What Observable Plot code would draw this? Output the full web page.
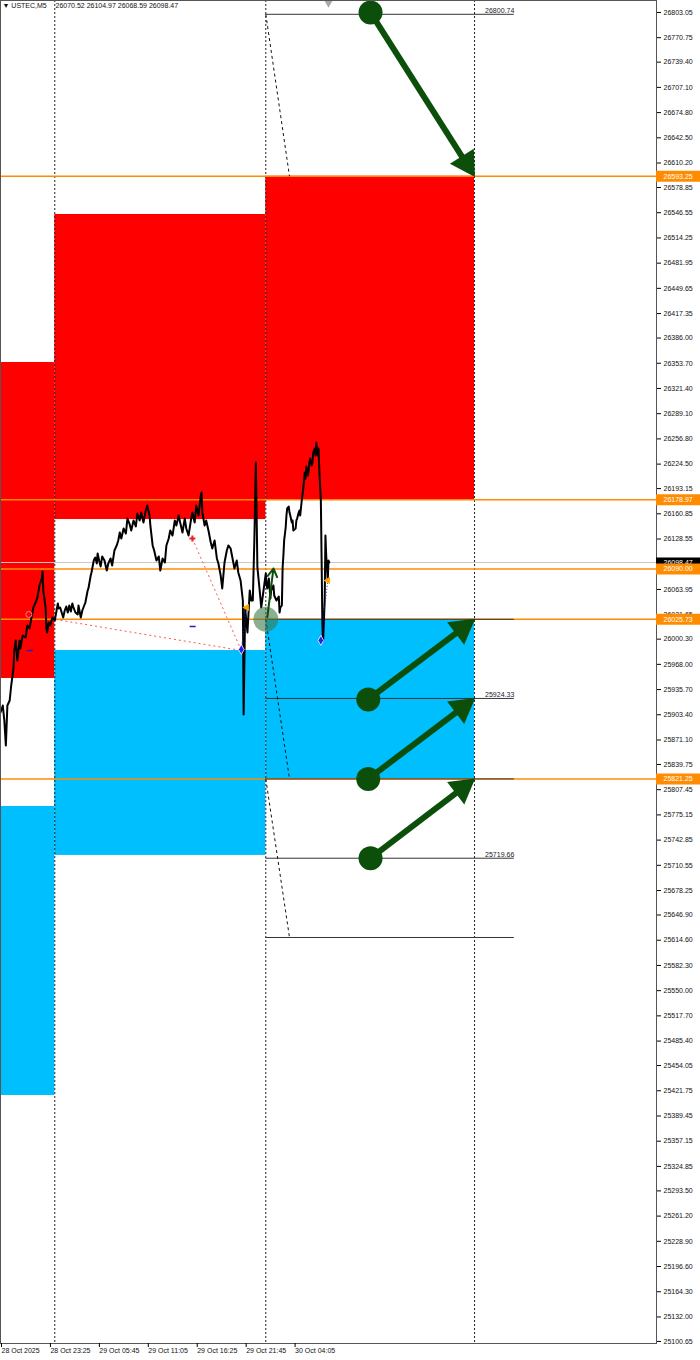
<!DOCTYPE html>
<html><head><meta charset="utf-8">
<script src="https://cdn.jsdelivr.net/npm/d3@7"></script>
<script src="https://cdn.jsdelivr.net/npm/@observablehq/plot@0.6"></script>
<style>body{margin:0;background:#fff;}#chart{width:700px;height:1360px;overflow:hidden;}</style>
</head><body><div id="chart"></div>
<script>
// ---------- data ----------
const symbolName = "▼ USTEC,M5";
const ohlcText = "26070.52 26104.97 26068.59 26098.47";

const priceTicks = [26803.05,26770.75,26739.40,26707.10,26674.80,26642.50,26610.20,26578.85,26546.55,26514.25,26481.95,26449.65,26417.35,26386.00,26353.70,26321.40,26289.10,26256.80,26224.50,26193.15,26160.85,26128.55,26096.25,26063.95,26031.65,26000.30,25968.00,25935.70,25903.40,25871.10,25839.75,25807.45,25775.15,25742.85,25710.55,25678.25,25646.90,25614.60,25582.30,25550.00,25517.70,25485.40,25454.05,25421.75,25389.45,25357.15,25324.85,25293.50,25261.20,25228.90,25196.60,25164.30,25132.00,25100.65];

const timeTickBars = [0,64,128,192,256,320,384];
const timeTickLabels = ["28 Oct 2025","28 Oct 23:25","29 Oct 05:45","29 Oct 11:05","29 Oct 16:25","29 Oct 21:45","30 Oct 04:05"];
const daySeparators = [71,347,620];

// M5 price path (bar index, price)
const priceBar = [
  0,3,5,7,9,12,14,17,18,20,22,25,26,29,33,35,38,41,43,46,48,51,54,55,56,59,60,61,63,65,68,71,
  75,76,78,80,82,84,86,88,90,92,94,95,98,101,102,105,107,109,111,112,114,115,118,119,122,123,
  124,126,127,129,131,133,136,139,141,144,146,149,152,154,156,158,161,164,166,169,171,174,177,179,182,184,187,190,192,195,
  196,199,201,204,207,209,212,215,217,220,222,225,228,230,233,235,238,241,243,246,249,251,254,256,259,262,263,264,267,269,
  272,275,277,280,283,285,288,290,293,296,298,301,303,306,309,311,314,317,318,320,323,326,328,
  330,332,334,336,339,341,344,
  347,348,349,351,353,354,357,358,361,364,365,366,368,369,370,371,373,374,375,377,378,379,381,382,383,386,387,388,390,391,
  392,394,395,396,398,399,400,402,403,404,405,407,408,409,411,412,413,415,416,417,419,
  420,421,422,424,425,426,428,429,430];
const priceVal = [
  25906.3,25915.3,25896.1,25864.1,25915.3,25921.7,25940.9,25962.7,25985.7,25998.6,25972.9,25998.6,25988.3,26005.0,26002.4,26017.8,26013.9,26030.6,26040.8,26047.3,26052.4,26069.0,26078.0,26087.0,26062.6,26040.8,26013.9,26008.8,26021.6,26017.8,26028.0,26024.2,
  26046.0,26039.6,26040.8,26034.4,26028.0,26037.0,26042.1,26034.4,26043.4,26035.7,26046.0,26042.1,26034.4,26031.9,26043.4,26028.0,26037.0,26042.1,26047.2,26052.4,26062.6,26065.2,26081.8,26085.7,26101.0,26103.6,
  26104.9,26097.2,26110.0,26101.0,26093.4,26106.2,26101.0,26088.2,26097.2,26103.6,26094.6,26113.8,26120.3,26126.7,26136.9,26129.2,26142.0,26135.6,26154.8,26147.2,26139.5,26152.3,26144.6,26161.2,26152.3,26162.5,26149.7,26165.1,26171.5,26158.7,
  26145.9,26120.3,26113.8,26101.0,26106.2,26088.2,26103.6,26098.5,26120.3,26129.2,26139.5,26133.1,26152.3,26145.9,26158.7,26149.7,26136.9,26154.8,26142.0,26133.1,26152.3,26162.5,26149.7,26171.5,26158.7,26184.3,26188.1,26162.5,26145.9,26152.3,
  26139.5,26124.1,26116.4,26126.7,26103.6,26097.2,26081.8,26065.2,26098.5,26113.8,26120.3,26116.4,26106.2,26090.8,26101.0,26085.7,26075.4,26049.8,25903.8,26039.6,26008.8,26062.6,26049.8,
  26049.8,26126.7,26226.6,26092.1,26062.6,26040.8,26062.6,
  26084.4,26069.0,26065.2,26078.0,26052.4,26062.6,26069.0,26056.2,26049.8,26054.9,26034.4,26040.8,26043.4,26092.1,26107.4,26126.7,26143.3,26158.7,26167.7,26170.2,26162.5,26158.7,26149.7,26152.3,26139.5,26142.0,26152.3,26154.8,26162.5,26165.1,
  26158.7,26177.9,26185.6,26193.3,26213.8,26206.1,26221.4,26209.9,26216.3,26226.6,26231.7,26222.7,26226.6,26239.4,26244.5,26235.5,26252.2,26235.5,26244.5,26216.3,26177.9,
  26101.0,26017.8,25998.6,26049.8,26133.1,26107.5,26075.4,26101.0,26098.5];

const redStart = [0,71,347], redEnd = [71,347,620];
const redTop = [26354.7,26544.3,26593.25], redBottom = [25949.9,26153.5,26178.97];
const blueStart = [0,71,347], blueEnd = [71,347,620];
const blueTop = [25785.9,25985.7,26025.73], blueBottom = [25415.7,25723.2,25821.25];

const levelPrices = [26593.25,26178.97,26090.00,26025.73,25821.25];
const currentPrice = 26098.47;

const fiboStart = 347, fiboEnd = 672;
const fiboPrices = [26800.74,26025.73,25924.33,25821.25,25719.66,25618.10];
const fiboLabels = ["26800.74","","25924.33","","25719.66",""];

const diagFromBar = 347, diagToBar = 378;
const diagFromPrice = [26800.74,26025.73,25821.25];
const diagToPrice = [26593.25,25821.25,25618.10];

const arrowFromBar = [484,481,481,484];
const arrowFromPrice = [26803.0,25923.0,25821.25,25719.66];
const arrowToBar = [620,620,620,620];
const arrowToPrice = [26593.25,26025.73,25924.33,25821.25];

const zigFromBar = [72,251], zigFromPrice = [26025.5,26129.2];
const zigToBar = [315,315], zigToPrice = [25985.7,25985.7];
const blueDiamondBar = [315,419], blueDiamondPrice = [25987.0,25998.6];
const orangeMarkBar = [322,428], orangeMarkPrice = [26040.8,26075.4];
const blueDashBar = [39,252], blueDashPrice = [25985.7,26016.5];

// ---------- scales ----------
const W = 700, H = 1360, mR = 44, mB = 17;
const xDomain = [0, 858], yDomain = [25098.0, 26818.4];
const xs = Plot.scale({x: {type: "linear", domain: xDomain, range: [0, W - mR]}});
const ys = Plot.scale({y: {type: "linear", domain: yDomain, range: [H - mB, 0]}});
const axisEnd = xs.invert(W);

const price = priceBar.map((b, i) => ({bar: b, price: priceVal[i]}));
const red = redStart.map((s, i) => ({x1: s, x2: redEnd[i], y1: redBottom[i], y2: redTop[i]}));
const blue = blueStart.map((s, i) => ({x1: s, x2: blueEnd[i], y1: blueBottom[i], y2: blueTop[i]}));
const fibo = fiboPrices.map((p, i) => ({p, label: fiboLabels[i]}));
const diag = diagFromPrice.map((p, i) => ({x1: diagFromBar, y1: p, x2: diagToBar, y2: diagToPrice[i]}));
const arrows = arrowFromBar.map((b, i) => {
  const px0 = xs.apply(b), py0 = ys.apply(arrowFromPrice[i]);
  const px1 = xs.apply(arrowToBar[i]), py1 = ys.apply(arrowToPrice[i]);
  const a = Math.atan2(py1 - py0, px1 - px0);
  return {
    fb: b, fp: arrowFromPrice[i],
    sb: xs.invert(px1 - Math.cos(a) * 18), sp: ys.invert(py1 - Math.sin(a) * 18),
    hb: xs.invert(px1 - Math.cos(a) * 15.5), hp: ys.invert(py1 - Math.sin(a) * 15.5),
    rot: a * 180 / Math.PI + 90
  };
});
const zig = zigFromBar.map((b, i) => ({x1: b, y1: zigFromPrice[i], x2: zigToBar[i], y2: zigToPrice[i]}));
const dashes = blueDashBar.map((b, i) => ({x1: xs.invert(xs.apply(b) - 3), x2: xs.invert(xs.apply(b) + 3), y: blueDashPrice[i]}));
const labelMap = new Map(timeTickBars.map((b, i) => [b, timeTickLabels[i]]));

const green = "#0b4f0b", orange = "#ff8c00";

const chart = Plot.plot({
  width: W, height: H,
  marginLeft: 0, marginRight: mR, marginTop: 0, marginBottom: mB,
  style: {fontFamily: "Liberation Sans, Arial, sans-serif", background: "#fff", overflow: "visible"},
  x: {type: "linear", domain: xDomain},
  y: {type: "linear", domain: yDomain},
  marks: [
    Plot.rect(red, {x1: "x1", x2: "x2", y1: "y1", y2: "y2", fill: "#ff0000"}),
    Plot.rect(blue, {x1: "x1", x2: "x2", y1: "y1", y2: "y2", fill: "#00bfff"}),
    Plot.ruleX(daySeparators, {stroke: "#222", strokeWidth: 1, strokeDasharray: "2,2"}),
    Plot.ruleY([currentPrice], {stroke: "#c8c8c8", strokeWidth: 1}),
    Plot.ruleY(levelPrices, {stroke: orange, strokeWidth: 1.5}),
    Plot.ruleY(fibo, {y: "p", x1: fiboStart, x2: fiboEnd, stroke: "#333", strokeWidth: 1}),
    Plot.text(fibo.filter(d => d.label), {x: fiboEnd, y: "p", text: "label", textAnchor: "end", lineAnchor: "bottom", dy: -1, fontSize: 7, fill: "#1a1a2e"}),
    Plot.link(diag, {x1: "x1", y1: "y1", x2: "x2", y2: "y2", stroke: "#111", strokeWidth: 1, strokeDasharray: "3,3"}),
    Plot.link(zig, {x1: "x1", y1: "y1", x2: "x2", y2: "y2", stroke: "#ff5555", strokeWidth: 1, strokeDasharray: "2,3"}),
    Plot.line(price, {x: "bar", y: "price", stroke: "#000", strokeWidth: 2}),
    Plot.link([0, 1], {x1: i => blueDiamondBar[i], y1: i => blueDiamondPrice[i], x2: i => orangeMarkBar[i], y2: i => orangeMarkPrice[i], stroke: "#2222cc", strokeWidth: 1, strokeDasharray: "1,2"}),
    Plot.dot(blueDiamondBar, {x: d => d, y: (d, i) => blueDiamondPrice[i], symbol: "diamond", r: 3, fill: "#2222ee", stroke: "#fff", strokeWidth: 0.8}),
    Plot.dot(orangeMarkBar, {x: d => d, y: (d, i) => orangeMarkPrice[i], symbol: "triangle", rotate: -90, r: 2.8, fill: "#ffa500"}),
    Plot.dot([37], {x: d => d, y: 26031.9, r: 3, stroke: "#ff8080", fill: "none", strokeWidth: 1}),
    Plot.dot([251], {x: d => d, y: 26129.2, symbol: "cross", r: 2.5, fill: "#ee2222"}),
    Plot.ruleY(dashes, {x1: "x1", x2: "x2", y: "y", stroke: "#2020c0", strokeWidth: 1.5}),
    Plot.dot([347], {x: d => d, y: 26025.73, r: 12.5, fill: "#3d7a4a", fillOpacity: 0.6}),
    Plot.arrow([0], {x1: 349, y1: 26028.4, x2: 357, y2: 26090.8, stroke: green, strokeWidth: 2, headLength: 7}),
    Plot.link(arrows, {x1: "fb", y1: "fp", x2: "sb", y2: "sp", stroke: green, strokeWidth: 6}),
    Plot.dot(arrows, {x: "hb", y: "hp", symbol: "triangle", rotate: "rot", r: 10.5, fill: green}),
    Plot.dot(arrows, {x: "fb", y: "fp", r: 12, fill: green}),
    Plot.dot([429], {x: d => d, y: 26815.0, symbol: "triangle", rotate: 180, r: 3, fill: "#aaa"}),
    Plot.frame({stroke: "#555", strokeWidth: 1}),
    Plot.axisY({anchor: "right", ticks: priceTicks, tickFormat: d => d.toFixed(2), tickSize: 4, tickPadding: 3, fontSize: 7, textAnchor: "start", fill: "#111"}),
    Plot.axisX({anchor: "bottom", ticks: timeTickBars, tickFormat: d => labelMap.get(d), tickSize: 4, tickPadding: 1, fontSize: 7, textAnchor: "start", dx: 1, fill: "#111"}),
    Plot.ruleY([currentPrice], {x1: xDomain[1], x2: axisEnd, stroke: "#000", strokeWidth: 10}),
    Plot.text([currentPrice], {x: xDomain[1], y: d => d, text: d => d.toFixed(2), dx: 7, textAnchor: "start", fontSize: 7, fill: "#fff"}),
    Plot.ruleY(levelPrices, {x1: xDomain[1], x2: axisEnd, stroke: orange, strokeWidth: 11}),
    Plot.text(levelPrices, {x: xDomain[1], y: d => d, text: d => d.toFixed(2), dx: 7, textAnchor: "start", fontSize: 7, fill: "#fff"}),
    Plot.text([symbolName], {frameAnchor: "top-left", dx: 2, dy: 3, lineAnchor: "top", fontSize: 7, fill: "#111"}),
    Plot.text([ohlcText], {frameAnchor: "top-left", dx: 55, dy: 3, lineAnchor: "top", fontSize: 7, fill: "#111"})
  ]
});
document.getElementById("chart").appendChild(chart);
</script>
</body></html>
